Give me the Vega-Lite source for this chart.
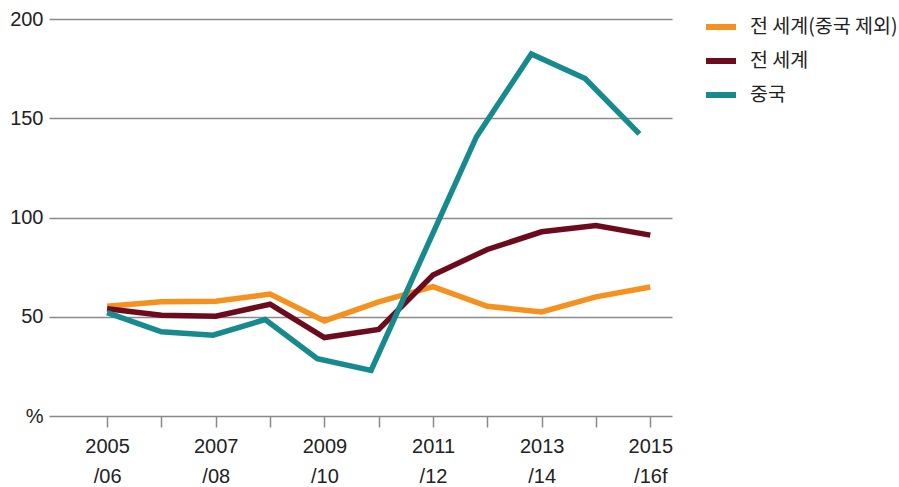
{
  "$schema": "https://vega.github.io/schema/vega-lite/v6.json",
  "width": 623,
  "height": 397,
  "autosize": {"type": "none"},
  "padding": {"left": 49, "top": 19, "right": 227, "bottom": 71},
  "background": "white",
  "config": {"view": {"stroke": null}, "font": "Liberation Sans"},
  "data": {
    "values": [
      {"year": 2005, "series": "전 세계(중국 제외)", "value": 55.3},
      {"year": 2006, "series": "전 세계(중국 제외)", "value": 57.5},
      {"year": 2007, "series": "전 세계(중국 제외)", "value": 57.8},
      {"year": 2008, "series": "전 세계(중국 제외)", "value": 61.4},
      {"year": 2009, "series": "전 세계(중국 제외)", "value": 47.9},
      {"year": 2010, "series": "전 세계(중국 제외)", "value": 57.5},
      {"year": 2011, "series": "전 세계(중국 제외)", "value": 65.2},
      {"year": 2012, "series": "전 세계(중국 제외)", "value": 55.3},
      {"year": 2013, "series": "전 세계(중국 제외)", "value": 52.4},
      {"year": 2014, "series": "전 세계(중국 제외)", "value": 60.0},
      {"year": 2015, "series": "전 세계(중국 제외)", "value": 65.0},
      {"year": 2005, "series": "전 세계", "value": 54.0},
      {"year": 2006, "series": "전 세계", "value": 50.8},
      {"year": 2007, "series": "전 세계", "value": 50.3},
      {"year": 2008, "series": "전 세계", "value": 56.3},
      {"year": 2009, "series": "전 세계", "value": 39.5},
      {"year": 2010, "series": "전 세계", "value": 43.6},
      {"year": 2011, "series": "전 세계", "value": 71.0},
      {"year": 2012, "series": "전 세계", "value": 83.9},
      {"year": 2013, "series": "전 세계", "value": 92.8},
      {"year": 2014, "series": "전 세계", "value": 96.0},
      {"year": 2015, "series": "전 세계", "value": 91.1},
      {"year": 2005, "series": "중국", "value": 52.1},
      {"year": 2006, "series": "중국", "value": 42.4},
      {"year": 2006.95, "series": "중국", "value": 40.7},
      {"year": 2007.91, "series": "중국", "value": 48.6},
      {"year": 2008.87, "series": "중국", "value": 28.9},
      {"year": 2009.86, "series": "중국", "value": 23.0},
      {"year": 2011.8, "series": "중국", "value": 140.7},
      {"year": 2012.81, "series": "중국", "value": 182.4},
      {"year": 2013.8, "series": "중국", "value": 170.0},
      {"year": 2014.8, "series": "중국", "value": 142.1}
    ]
  },
  "mark": {"type": "line", "strokeWidth": 5.5, "strokeJoin": "miter", "strokeCap": "butt"},
  "encoding": {
    "x": {
      "field": "year",
      "type": "quantitative",
      "scale": {"domain": [2003.93, 2015.4], "nice": false, "zero": false},
      "axis": {
        "title": null,
        "values": [2005, 2006, 2007, 2008, 2009, 2010, 2011, 2012, 2013, 2014, 2015],
        "format": "d",
        "grid": false,
        "domain": false,
        "ticks": true,
        "tickSize": 11,
        "tickColor": "#8a8a8a",
        "tickWidth": 1.5,
        "labelExpr": "datum.value % 2 == 1 ? [datum.label, '/' + (datum.value == 2015 ? '16f' : format((datum.value + 1) % 100, '02d'))] : ''",
        "labelFont": "Liberation Sans",
        "labelFontSize": 20,
        "labelColor": "#222222",
        "labelPadding": 9,
        "labelLineHeight": 30,
        "labelAlign": "center",
        "labelBaseline": "top",
        "labelOverlap": false,
        "labelBound": false,
        "labelFlush": false
      }
    },
    "y": {
      "field": "value",
      "type": "quantitative",
      "scale": {"domain": [0, 200], "nice": false},
      "axis": {
        "title": null,
        "values": [0, 50, 100, 150, 200],
        "labelExpr": "datum.value == 0 ? '%' : datum.label",
        "grid": true,
        "gridColor": "#8a8a8a",
        "gridWidth": 1.6,
        "domain": false,
        "ticks": false,
        "labelFont": "Liberation Sans",
        "labelFontSize": 20,
        "labelColor": "#222222",
        "labelPadding": 6,
        "labelBaseline": "middle"
      }
    },
    "color": {
      "field": "series",
      "type": "nominal",
      "scale": {
        "domain": ["전 세계(중국 제외)", "전 세계", "중국"],
        "range": ["#f5911f", "#6d0b1e", "#168a8c"]
      },
      "legend": {
        "title": null,
        "orient": "none",
        "legendX": 654,
        "legendY": -10,
        "symbolType": "stroke",
        "symbolSize": 900,
        "symbolStrokeWidth": 6,
        "labelFont": "Noto Sans CJK KR",
        "labelFontSize": 19.5,
        "labelColor": "#222222",
        "labelOffset": 11,
        "rowPadding": 4
      }
    },
    "order": {"field": "year", "type": "quantitative"}
  }
}
